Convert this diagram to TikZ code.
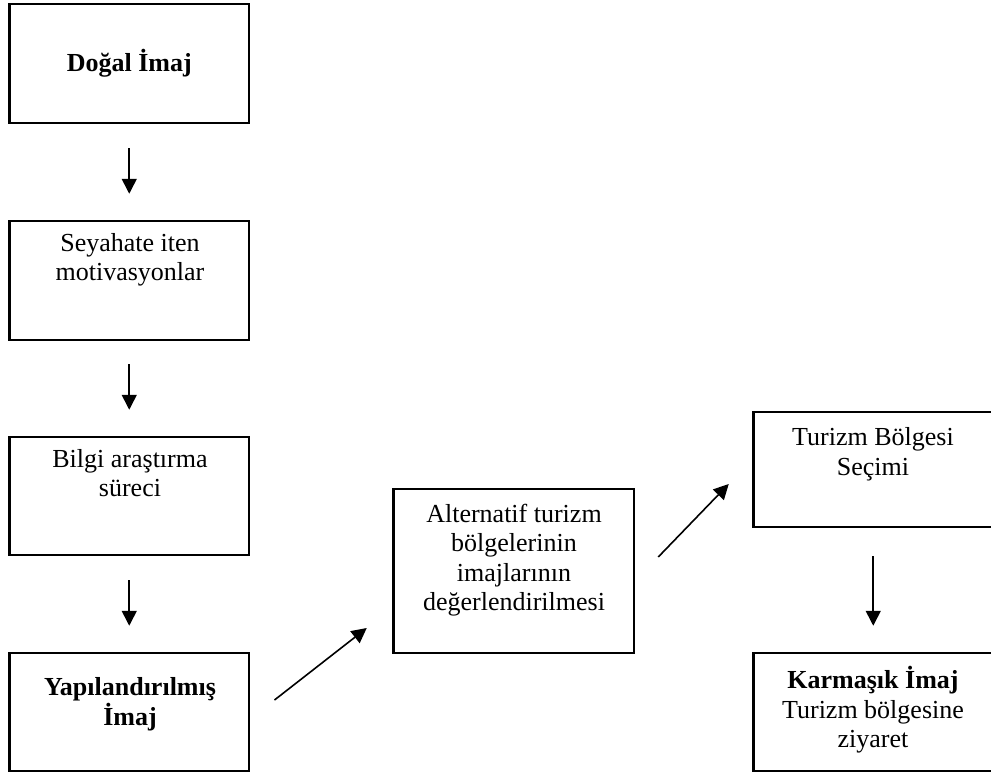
\documentclass[tikz,border=0pt]{standalone}
\usepackage{fontspec}
\setmainfont{Liberation Serif}
\usetikzlibrary{arrows.meta}
\begin{document}
\begin{tikzpicture}[x=1pt,y=-1pt,
  box/.style={draw, line width=2.5pt, inner sep=0pt},
  txt/.style={align=center, inner sep=0pt, font=\fontsize{26}{29.5}\selectfont},
  btxt/.style={txt, font=\fontsize{26}{29.5}\selectfont\bfseries},
  arr/.style={line width=1.6pt, -{Triangle[length=15pt,width=15pt]}}]
\useasboundingbox (0,0) rectangle (991,776);

% left column
\node[box, minimum width=239.5pt, minimum height=119pt] (b1) at (129.25,63.5) {};
\node[box, minimum width=239.5pt, minimum height=119pt] (b2) at (129.25,280.5) {};
\node[box, minimum width=239.5pt, minimum height=118pt] (b3) at (129.25,496) {};
\node[box, minimum width=239.5pt, minimum height=118pt] (b4) at (129.25,712) {};
% middle box
\node[box, minimum width=240.5pt, minimum height=164pt] (b5) at (513.75,571) {};
% right column
\node[box, minimum width=239.5pt, minimum height=115pt] (b6) at (873.25,469.5) {};
\node[box, minimum width=239.5pt, minimum height=118pt] (b7) at (873.25,712) {};

% texts
\node[btxt] (t1) at (129.25,63.5) {Doğal İmaj};
\node[txt] (t2) at (130,260) {Seyahate iten\\motivasyonlar};
\node[txt] (t3) at (130,473) {Bilgi araştırma\\süreci};
\node[btxt] (t4) at (130,704) {Yapılandırılmış\\İmaj};
\node[txt] (t5) at (514,560) {Alternatif turizm\\bölgelerinin\\imajlarının\\değerlendirilmesi};
\node[txt] (t6) at (873,454) {Turizm Bölgesi\\Seçimi};
\node[txt] (t7) at (873,710) {\textbf{Karmaşık İmaj}\\Turizm bölgesine\\ziyaret};

% arrows
\draw[arr, shorten <=24pt, shorten >=26pt] (b1.south) -- (b2.north);
\draw[arr, shorten <=23pt, shorten >=26pt] (b2.south) -- (b3.north);
\draw[arr, shorten <=24pt, shorten >=26pt] (b3.south) -- (b4.north);
\draw[arr] ([shift={(24.25,-12)}]b4.east) -- ([shift={(-25.5,57)}]b5.west);
\draw[arr] ([shift={(23,-14)}]b5.east) -- ([shift={(-23.5,14.5)}]b6.west);
\draw[arr, shorten <=28pt, shorten >=26pt] (b6.south) -- (b7.north);
\end{tikzpicture}
\end{document}
